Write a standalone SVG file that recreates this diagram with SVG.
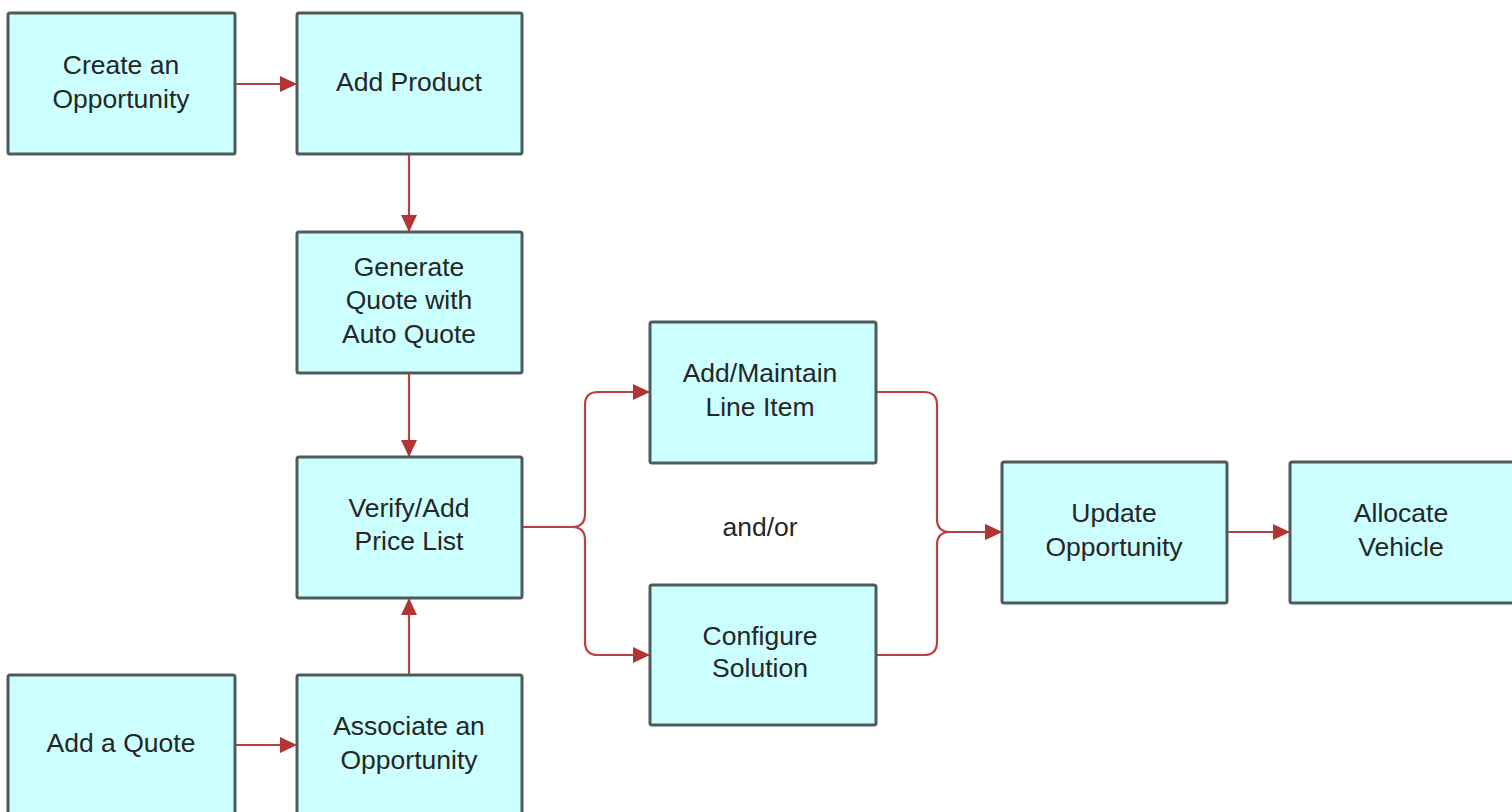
<svg xmlns="http://www.w3.org/2000/svg" width="1512" height="812" viewBox="0 0 1512 812">
<defs>
<marker id="arr" markerUnits="userSpaceOnUse" markerWidth="18" markerHeight="16" refX="17" refY="8" orient="auto">
<path d="M0,0 L17,8 L0,16 Z" fill="#b23434"/>
</marker>
<style>
.box{fill:#ccffff;stroke:#4f5a5a;stroke-width:3}
.lbl{font-family:"Liberation Sans",Arial,sans-serif;font-size:26.5px;fill:#262626;text-anchor:middle}
.con{fill:none;stroke:#b84040;stroke-width:2.2}
</style>
</defs>
<rect width="1512" height="812" fill="#fff"/>
<g id="connectors">
<path class="con" d="M235,84 H297" marker-end="url(#arr)"/>
<path class="con" d="M409,154 V232" marker-end="url(#arr)"/>
<path class="con" d="M409,373 V457" marker-end="url(#arr)"/>
<path class="con" d="M409,675 V598" marker-end="url(#arr)"/>
<path class="con" d="M235,745 H297" marker-end="url(#arr)"/>
<path class="con" d="M522,527 H572 Q585,527 585,514 V405 Q585,392 598,392 H650" marker-end="url(#arr)"/>
<path class="con" d="M522,527 H572 Q585,527 585,540 V642 Q585,655 598,655 H650" marker-end="url(#arr)"/>
<path class="con" d="M876,392 H924 Q937,392 937,405 V519 Q937,532 950,532 H1002" marker-end="url(#arr)"/>
<path class="con" d="M876,655 H924 Q937,655 937,642 V545 Q937,532 950,532 H1002" marker-end="url(#arr)"/>
<path class="con" d="M1227,532 H1290" marker-end="url(#arr)"/>
</g>
<g id="n-create">
<rect class="box" x="8" y="13" width="227" height="141" rx="2"/>
<text class="lbl" x="121" y="74">Create an</text>
<text class="lbl" x="121" y="108">Opportunity</text>
</g>
<g id="n-addproduct">
<rect class="box" x="297" y="13" width="225" height="141" rx="2"/>
<text class="lbl" x="409" y="91">Add Product</text>
</g>
<g id="n-generate">
<rect class="box" x="297" y="232" width="225" height="141" rx="2"/>
<text class="lbl" x="409" y="276">Generate</text>
<text class="lbl" x="409" y="309">Quote with</text>
<text class="lbl" x="409" y="343">Auto Quote</text>
</g>
<g id="n-verify">
<rect class="box" x="297" y="457" width="225" height="141" rx="2"/>
<text class="lbl" x="409" y="517">Verify/Add</text>
<text class="lbl" x="409" y="550">Price List</text>
</g>
<g id="n-addquote">
<rect class="box" x="8" y="675" width="227" height="141" rx="2"/>
<text class="lbl" x="121" y="752">Add a Quote</text>
</g>
<g id="n-associate">
<rect class="box" x="297" y="675" width="225" height="141" rx="2"/>
<text class="lbl" x="409" y="735">Associate an</text>
<text class="lbl" x="409" y="769">Opportunity</text>
</g>
<g id="n-addmaintain">
<rect class="box" x="650" y="322" width="226" height="141" rx="2"/>
<text class="lbl" x="760" y="382">Add/Maintain</text>
<text class="lbl" x="760" y="416">Line Item</text>
</g>
<g id="n-andor">
<text class="lbl" x="760" y="536">and/or</text>
</g>
<g id="n-configure">
<rect class="box" x="650" y="585" width="226" height="140" rx="2"/>
<text class="lbl" x="760" y="645">Configure</text>
<text class="lbl" x="760" y="677">Solution</text>
</g>
<g id="n-update">
<rect class="box" x="1002" y="462" width="225" height="141" rx="2"/>
<text class="lbl" x="1114" y="522">Update</text>
<text class="lbl" x="1114" y="556">Opportunity</text>
</g>
<g id="n-allocate">
<rect class="box" x="1290" y="462" width="225" height="141" rx="2"/>
<text class="lbl" x="1401" y="522">Allocate</text>
<text class="lbl" x="1401" y="556">Vehicle</text>
</g>
</svg>
